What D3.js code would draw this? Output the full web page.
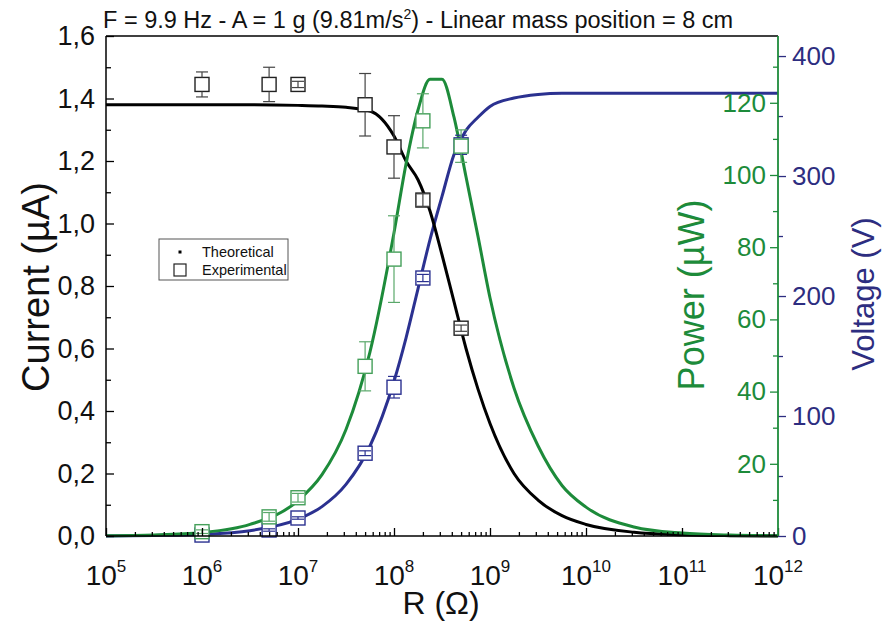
<!DOCTYPE html>
<html><head><meta charset="utf-8">
<script src="https://cdn.jsdelivr.net/npm/d3@7"></script>
<style>body{margin:0;background:#fff} text{font-family:Arial,"Liberation Sans",sans-serif}</style>
</head><body><svg id="c" width="890" height="631"></svg>
<script>
// ---------- data ----------
const titleText = ["F = 9.9 Hz - A = 1 g (9.81m/s", "2", ") - Linear mass position = 8 cm"];
const xDecades = [5, 6, 7, 8, 9, 10, 11, 12];
const currentTicks = [0, 0.2, 0.4, 0.6, 0.8, 1.0, 1.2, 1.4, 1.6];
const powerTicks = [20, 40, 60, 80, 100, 120];
const voltageTicks = [0, 100, 200, 300, 400];

// theoretical curves, sampled at log10(R)
const logR_th     = [5, 5.5, 6, 6.5, 7, 7.25, 7.5, 7.75, 8, 8.125, 8.25, 8.375, 8.5, 8.625, 8.75, 8.875, 9, 9.25, 9.5, 9.75, 10, 10.5, 11, 11.5, 12];
const current_th  = [1.38, 1.38, 1.38, 1.38, 1.378, 1.376, 1.372, 1.36, 1.28, 1.2, 1.14, 1.04, 0.9, 0.75, 0.6, 0.47, 0.36, 0.2, 0.115, 0.065, 0.037, 0.012, 0.004, 0.001, 0];
const power_th    = [0.1, 0.3, 0.95, 3.2, 9.8, 17, 29.5, 51, 84, 103, 118, 126.5, 126.5, 116, 99.5, 83, 66, 41, 25, 14, 8, 2.5, 0.8, 0.25, 0.08];
const voltage_th  = [0, 0.4, 1.3, 4.4, 14, 24.5, 43, 75, 129, 165, 206, 247, 283, 318, 338, 349, 358, 365, 368, 369, 369, 369, 369, 369, 369];

// experimental points
const R_exp   = [1e6, 5e6, 1e7, 5e7, 1e8, 2e8, 5e8];
const I_exp   = [1.445, 1.445, 1.445, 1.38, 1.245, 1.075, 0.665];
const I_err   = [0.04, 0.055, 0.01, 0.10, 0.10, 0.02, 0.01];
const P_exp   = [1.2, 5.3, 10.6, 47, 76.7, 115, 108];
const P_err   = [0.5, 1.2, 1.2, 6.8, 12, 7.5, 4.5];
const V_exp   = [0.8, 5, 15, 69, 124, 215, 326];
const V_err   = [0.5, 1, 1, 2, 9, 3, 8];

// ---------- layout ----------
const L = 106, R = 778, T = 36, B = 536;
const cBlack = "#000", cGreen = "#1d8b3a", cBlue = "#2b3190", cBlueTxt = "#2d2d80";
const cGreenLt = "#45a05a";
const FONT = "Arial,'Liberation Sans',sans-serif";
const svg = d3.select("#c");

const x  = d3.scaleLog().domain([1e5, 1e12]).range([L, R]);
const yI = d3.scaleLinear().domain([0, 1.6]).range([B, T]);
const yP = d3.scaleLinear().domain([0, 138.5]).range([B, T]);
const yV = d3.scaleLinear().domain([0, 416.7]).range([B, T]);

// title
const tt = svg.append("text").attr("x", 103).attr("y", 28).attr("font-size", 23.5).attr("fill", "#111");
tt.append("tspan").text(titleText[0]);
tt.append("tspan").attr("dy", -9).attr("font-size", 14).text(titleText[1]);
tt.append("tspan").attr("dy", 9).text(titleText[2]);

// ---------- curves ----------
const th = logR_th.map((l, i) => ({r: Math.pow(10, l), i: current_th[i], p: power_th[i], v: voltage_th[i]}));
const mk = (yS, key) => d3.line().x(d => x(d.r)).y(d => yS(d[key])).curve(d3.curveMonotoneX);
const gCurves = svg.append("g").attr("fill", "none").attr("stroke-width", 3).attr("stroke-linejoin", "round");
gCurves.append("path").datum(th).attr("stroke", cBlue).attr("d", mk(yV, "v"));
gCurves.append("path").datum(th).attr("stroke", cBlack).attr("d", mk(yI, "i"));
gCurves.append("path").datum(th).attr("stroke", cGreen).attr("d", mk(yP, "p"));

// ---------- experimental ----------
const S = 14, h = S / 2, cap = 6;
function drawExp(vals, errs, yS, stroke, errStroke) {
  const g = svg.append("g");
  R_exp.forEach((r, i) => {
    const cx = x(r), cy = yS(vals[i]);
    const yt = yS(vals[i] + errs[i]), yb = yS(vals[i] - errs[i]);
    g.append("rect").attr("x", cx - h).attr("y", cy - h).attr("width", S).attr("height", S)
      .attr("fill", "#fff").attr("stroke", stroke).attr("stroke-width", 1.4);
    const e = g.append("g").attr("stroke", errStroke).attr("stroke-width", 1.2);
    if (cy - yt > h) {
      e.append("line").attr("x1", cx).attr("x2", cx).attr("y1", cy - h).attr("y2", yt);
      e.append("line").attr("x1", cx).attr("x2", cx).attr("y1", cy + h).attr("y2", yb);
    } else {
      e.append("line").attr("x1", cx).attr("x2", cx).attr("y1", yt).attr("y2", yb);
    }
    e.append("line").attr("x1", cx - cap).attr("x2", cx + cap).attr("y1", yt).attr("y2", yt);
    e.append("line").attr("x1", cx - cap).attr("x2", cx + cap).attr("y1", yb).attr("y2", yb);
  });
}
drawExp(I_exp, I_err, yI, "#222", "#444");
drawExp(V_exp, V_err, yV, cBlue, cBlue);
drawExp(P_exp, P_err, yP, cGreenLt, "#5aa86a");

// ---------- axes ----------
const fmtI = d => d3.format(".1f")(d).replace(".", ",");
const minorI = d3.range(0.1, 1.6, 0.2);
const gl = svg.append("g").attr("transform", `translate(${L},0)`);
gl.call(d3.axisLeft(yI).tickValues(currentTicks).tickSize(-8).tickPadding(11).tickFormat(fmtI));
gl.append("g").call(d3.axisLeft(yI).tickValues(minorI).tickSize(-5).tickFormat(""));
gl.selectAll("path.domain").remove();
gl.selectAll("line").attr("stroke", "#000").attr("stroke-width", 1.3);
gl.selectAll("text").attr("font-size", 27).attr("fill", "#111").attr("font-family", FONT);

// bottom axis
const gb = svg.append("g").attr("transform", `translate(0,${B})`);
const majorX = xDecades.map(d => Math.pow(10, d));
const minorX = [];
xDecades.slice(0, -1).forEach(d => { for (let k = 2; k <= 9; k++) minorX.push(k * Math.pow(10, d)); });
gb.call(d3.axisBottom(x).tickValues(majorX).tickSize(-8).tickFormat(""));
gb.append("g").call(d3.axisBottom(x).tickValues(minorX).tickSize(-4).tickFormat(""));
gb.selectAll("path.domain").remove();
gb.selectAll("line").attr("stroke", "#000").attr("stroke-width", 1.3);
xDecades.forEach(d => {
  const t = svg.append("text").attr("x", x(Math.pow(10, d))).attr("y", 585).attr("text-anchor", "middle")
    .attr("font-size", 28).attr("fill", "#111");
  t.append("tspan").text("10");
  t.append("tspan").attr("dy", -13).attr("font-size", 17).text(String(d));
});

// right axes
const gp = svg.append("g").attr("transform", `translate(${R},0)`);
gp.call(d3.axisLeft(yP).tickValues(powerTicks).tickSize(8).tickPadding(4));
gp.append("g").call(d3.axisLeft(yP).tickValues(d3.range(10, 140, 20)).tickSize(5).tickFormat(""));
gp.selectAll("path.domain").remove();
gp.selectAll("line").attr("stroke", cGreen).attr("stroke-width", 1.3);
gp.selectAll("text").attr("font-size", 26).attr("fill", cGreen).attr("font-family", FONT);

const gv = svg.append("g").attr("transform", `translate(${R},0)`);
gv.call(d3.axisRight(yV).tickValues(voltageTicks).tickSize(8).tickPadding(6));
gv.append("g").call(d3.axisRight(yV).tickValues(d3.range(50, 400, 100)).tickSize(5).tickFormat(""));
gv.selectAll("path.domain").remove();
gv.selectAll("line").attr("stroke", cBlueTxt).attr("stroke-width", 1.3);
gv.selectAll("text").attr("font-size", 26).attr("fill", cBlueTxt).attr("font-family", FONT);

// frame lines
svg.append("line").attr("x1", L).attr("x2", R).attr("y1", T).attr("y2", T).attr("stroke", "#000").attr("stroke-width", 1.5);
svg.append("line").attr("x1", L).attr("x2", R).attr("y1", B).attr("y2", B).attr("stroke", "#000").attr("stroke-width", 1.5);
svg.append("line").attr("x1", L).attr("x2", L).attr("y1", T).attr("y2", B).attr("stroke", "#000").attr("stroke-width", 1.5);
svg.append("line").attr("x1", R).attr("x2", R).attr("y1", T).attr("y2", B).attr("stroke", cGreen).attr("stroke-width", 1.8);

// axis titles
svg.append("text").attr("transform", "translate(49,287) rotate(-90)").attr("text-anchor", "middle")
  .attr("font-size", 38).attr("fill", "#111").text("Current (µA)");
svg.append("text").attr("transform", "translate(704,295) rotate(-90)").attr("text-anchor", "middle")
  .attr("font-size", 36).attr("fill", cGreen).text("Power (µW)");
svg.append("text").attr("transform", "translate(874,294) rotate(-90)").attr("text-anchor", "middle")
  .attr("font-size", 31).attr("fill", cBlueTxt).text("Voltage (V)");
svg.append("text").attr("x", 441).attr("y", 614).attr("text-anchor", "middle")
  .attr("font-size", 32).attr("fill", "#111").text("R (Ω)");

// legend
const lg = svg.append("g");
lg.append("rect").attr("x", 159).attr("y", 239).attr("width", 129).attr("height", 41)
  .attr("fill", "#fff").attr("stroke", "#555").attr("stroke-width", 1);
lg.append("rect").attr("x", 178.5).attr("y", 250.5).attr("width", 3).attr("height", 3).attr("fill", "#000");
lg.append("rect").attr("x", 174).attr("y", 264).attr("width", 12).attr("height", 12)
  .attr("fill", "#fff").attr("stroke", "#222").attr("stroke-width", 1.2);
lg.append("text").attr("x", 202).attr("y", 257).attr("font-size", 14.5).attr("fill", "#111").text("Theoretical");
lg.append("text").attr("x", 202).attr("y", 275).attr("font-size", 14.5).attr("fill", "#111").text("Experimental");
</script></body></html>
